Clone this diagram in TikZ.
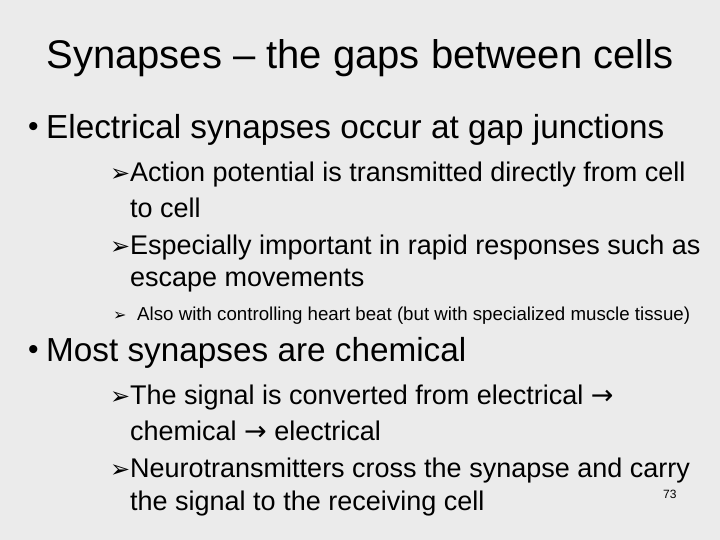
\documentclass[tikz,border=0pt]{standalone}
\usepackage{fontspec}
\setmainfont{Liberation Sans}
\newfontfamily\symf{DejaVu Sans}
\definecolor{bg}{HTML}{EBEBEB}
\begin{document}
\begin{tikzpicture}[x=1pt,y=1pt,
  t/.style={anchor=west,inner sep=0pt,text=black},
  lone/.style={t,font=\fontsize{33.3}{33.3}\selectfont},
  ltwo/.style={t,font=\fontsize{27}{27}\selectfont},
  arr/.style={t,font=\symf\fontsize{24}{24}\selectfont},
  bul/.style={t,font=\fontsize{30}{30}\selectfont},
  lsm/.style={t,font=\fontsize{18.7}{18.7}\selectfont}]
\fill[bg] (0,0) rectangle (720,540);
\useasboundingbox (0,0) rectangle (720,540);
\node[inner sep=0pt,font=\fontsize{40}{40}\selectfont] (title) at (360,482) {Synapses – the gaps between cells};
\node[bul] (b1) at (28,410) {•};
\node[lone] (b1t) at (46,410) {Electrical synapses occur at gap junctions};
\node[arr] (a1) at (110,365) {➢};
\node[ltwo] (a1t) at (130,365) {Action potential is transmitted directly from cell};
\node[ltwo] (a1u) at (130,332) {to cell};
\node[arr] (a2) at (110,292) {➢};
\node[ltwo] (a2t) at (130,292) {Especially important in rapid responses such as};
\node[ltwo] (a2u) at (130,259) {escape movements};
\node[arr,font=\symf\fontsize{16}{16}\selectfont] (a3) at (113,224) {➢};
\node[lsm] (a3t) at (137,224) {Also with controlling heart beat (but with specialized muscle tissue)};
\node[bul] (b2) at (28,187) {•};
\node[lone] (b2t) at (46,187) {Most synapses are chemical};
\node[arr] (a4) at (110,142) {➢};
\node[ltwo] (a4t) at (130,142) {The signal is converted from electrical {\symf →}};
\node[ltwo] (a4u) at (130,109) {chemical {\symf →} electrical};
\node[arr] (a5) at (110,69) {➢};
\node[ltwo] (a5t) at (130,69) {Neurotransmitters cross the synapse and carry};
\node[ltwo] (a5u) at (130,36) {the signal to the receiving cell};
\node[t,font=\fontsize{12}{12}\selectfont] (pg) at (663,46) {73};
\end{tikzpicture}
\end{document}
